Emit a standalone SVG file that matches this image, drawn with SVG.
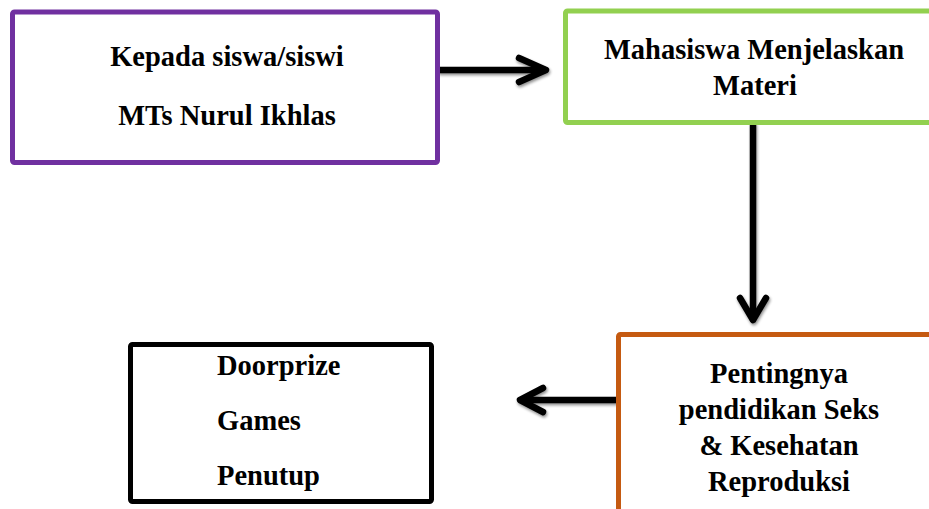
<svg xmlns="http://www.w3.org/2000/svg" width="929" height="509" viewBox="0 0 929 509">
<defs>
<style>
.box{fill:#fff;stroke-width:5;stroke-linejoin:round}
.t{font-family:"Liberation Serif","Times New Roman",serif;font-weight:bold;font-size:28.5px;fill:#000}
.c{text-anchor:middle}
.conn{fill:none;stroke:#000;stroke-width:6.5;stroke-linecap:round;stroke-linejoin:round}
</style>
<filter id="sh" x="-20%" y="-20%" width="140%" height="140%">
<feGaussianBlur in="SourceAlpha" stdDeviation="1.5"/>
<feOffset dx="1" dy="1.5" result="b"/>
<feComponentTransfer><feFuncA type="linear" slope="0.45"/></feComponentTransfer>
<feMerge><feMergeNode/><feMergeNode in="SourceGraphic"/></feMerge>
</filter>
</defs>
<rect width="929" height="509" fill="#fff"/>
<g id="connectors" filter="url(#sh)">
<path class="conn" d="M440 70 H545"/>
<path class="conn" d="M519 58 L546 70 L519 82"/>
<path class="conn" d="M753 125 V319"/>
<path class="conn" d="M740 298 L753 320 L766 298"/>
<path class="conn" d="M616 400 H521"/>
<path class="conn" d="M543 388 L520 400 L543 412"/>
</g>
<g id="node-kepada">
<rect class="box" x="12.5" y="12" width="425" height="150.5" rx="2" stroke="#7030A0"/>
<text class="t c" x="227" y="66">Kepada siswa/siswi</text>
<text class="t c" x="227" y="125">MTs Nurul Ikhlas</text>
</g>
<g id="node-mahasiswa">
<rect class="box" x="565.5" y="11" width="380" height="111.5" rx="2" stroke="#92D050"/>
<text class="t c" x="754" y="59">Mahasiswa Menjelaskan</text>
<text class="t c" x="755" y="95">Materi</text>
</g>
<g id="node-pentingnya">
<rect class="box" x="618.5" y="334.5" width="330" height="200" rx="2" stroke="#C55A11"/>
<text class="t c" x="779" y="383">Pentingnya</text>
<text class="t c" x="779" y="419">pendidikan Seks</text>
<text class="t c" x="779" y="455">&amp; Kesehatan</text>
<text class="t c" x="779" y="491">Reproduksi</text>
</g>
<g id="node-penutup">
<rect class="box" x="130.5" y="344.5" width="301" height="157" rx="2" stroke="#000"/>
<text class="t" x="217" y="375">Doorprize</text>
<text class="t" x="217" y="430">Games</text>
<text class="t" x="217" y="485">Penutup</text>
</g>
</svg>
